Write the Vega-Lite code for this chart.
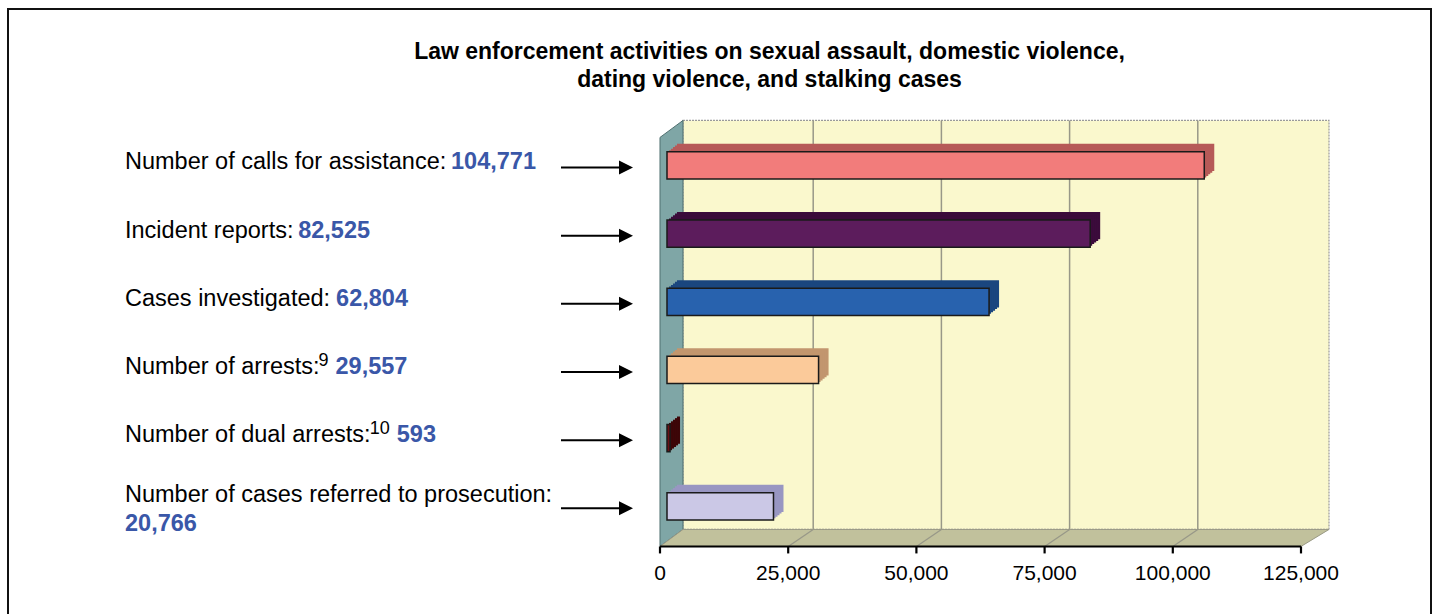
{
  "$schema": "https://vega.github.io/schema/vega-lite/v6.json",
  "width": 1423,
  "height": 610,
  "autosize": {"type": "none"},
  "padding": {"left": 8, "top": 9, "right": 4, "bottom": 0},
  "title": {
    "text": ["Law enforcement activities on sexual assault, domestic violence,", "dating violence, and stalking cases"],
    "anchor": "middle",
    "frame": "group",
    "dx": 50,
    "offset": -83,
    "baseline": "top",
    "font": "Liberation Sans",
    "fontSize": 23,
    "fontWeight": "bold",
    "lineHeight": 28,
    "color": "#000"
  },
  "datasets": {
    "rows": [
      {"label": "Number of calls for assistance:", "note": "", "value": 104771},
      {"label": "Incident reports:", "note": "", "value": 82525},
      {"label": "Cases investigated:", "note": "", "value": 62804},
      {"label": "Number of arrests:", "note": "9", "value": 29557},
      {"label": "Number of dual arrests:", "note": "10", "value": 593},
      {"label": "Number of cases referred to prosecution:", "note": "", "value": 20766}
    ],
    "grid": [{"g": 25000}, {"g": 50000}, {"g": 75000}, {"g": 100000}],
    "ticks": [{"t": 0}, {"t": 25000}, {"t": 50000}, {"t": 75000}, {"t": 100000}, {"t": 125000}]
  },
  "layer": [
    {
      "layer": [
        {
          "data": {"values": [{}]},
          "mark": {"type": "rect", "fill": "#faf8cd", "stroke": "#9a9a9a", "strokeWidth": 1.2, "strokeDash": [2, 1], "xOffset": 23, "x2Offset": 28, "yOffset": -17, "y2Offset": -17},
          "encoding": {
            "x": {"datum": 0, "type": "quantitative", "scale": {"domain": [-127145, 150351], "nice": false, "zero": false}, "axis": null},
            "x2": {"datum": 125000},
            "y": {"datum": 0.5, "type": "quantitative", "scale": {"domain": [-1.3837, 7.5645], "reverse": true, "nice": false, "zero": false}, "axis": null},
            "y2": {"datum": 6.5}
          }
        },
        {
          "data": {"name": "grid"},
          "mark": {"type": "rule", "stroke": "#989888", "strokeWidth": 1.5, "xOffset": 25, "yOffset": -17, "y2Offset": -17},
          "encoding": {
            "x": {"field": "g", "type": "quantitative", "axis": null},
            "y": {"datum": 0.5, "type": "quantitative", "axis": null},
            "y2": {"datum": 6.5}
          }
        },
        {
          "data": {"values": [{}]},
          "mark": {"type": "point", "shape": "M0,-1L0.1125,-1.0831L0.1125,0.9169L0,1Z", "size": 167281, "filled": true, "fill": "#7fa6a6", "stroke": "#4f6f6f", "strokeWidth": 1, "opacity": 1},
          "encoding": {
            "x": {"datum": 0, "type": "quantitative", "axis": null},
            "y": {"datum": 3.5, "type": "quantitative", "axis": null}
          }
        },
        {
          "data": {"values": [{}]},
          "mark": {"type": "point", "shape": "M-1,0L1,0L1.0874,-0.053L-0.9282,-0.053Z", "size": 410881, "filled": true, "fill": "#c1c19c", "stroke": "#9a9a86", "strokeWidth": 1, "opacity": 1},
          "encoding": {
            "x": {"datum": 62500, "type": "quantitative", "axis": null},
            "y": {"datum": 6.5, "type": "quantitative", "axis": null}
          }
        },
        {
          "data": {"name": "grid"},
          "mark": {"type": "rule", "stroke": "#989888", "strokeWidth": 1.3, "x2Offset": 25, "y2Offset": -17},
          "encoding": {
            "x": {"field": "g", "type": "quantitative", "axis": null},
            "x2": {"field": "g"},
            "y": {"datum": 6.5, "type": "quantitative", "axis": null},
            "y2": {"datum": 6.5}
          }
        },
        {
          "data": {"values": [{}]},
          "mark": {"type": "rule", "stroke": "#000", "strokeWidth": 2},
          "encoding": {
            "x": {"datum": 0, "type": "quantitative", "axis": null},
            "x2": {"datum": 125000},
            "y": {"datum": 6.5, "type": "quantitative", "axis": null}
          }
        },
        {
          "data": {"name": "ticks"},
          "mark": {"type": "rule", "stroke": "#000", "strokeWidth": 2.2, "y2Offset": 7},
          "encoding": {
            "x": {"field": "t", "type": "quantitative", "axis": null},
            "y": {"datum": 6.5, "type": "quantitative", "axis": null},
            "y2": {"datum": 6.5}
          }
        },
        {
          "data": {"name": "ticks"},
          "mark": {"type": "text", "align": "center", "baseline": "alphabetic", "dy": 34, "font": "Liberation Sans", "fontSize": 21, "fill": "#000"},
          "encoding": {
            "x": {"field": "t", "type": "quantitative", "axis": null},
            "y": {"datum": 6.5, "type": "quantitative", "axis": null},
            "text": {"field": "t", "type": "quantitative", "format": ","}
          }
        }
      ]
    },
    {
      "data": {"name": "rows"},
      "layer": [
        {
          "mark": {"type": "bar", "xOffset": 17, "x2Offset": 17, "yOffset": -8, "y2Offset": -8},
          "encoding": {
            "y": {
              "field": "label", "type": "nominal", "axis": null,
              "scale": {
                "domain": ["Number of calls for assistance:", "Incident reports:", "Cases investigated:", "Number of arrests:", "Number of dual arrests:", "Number of cases referred to prosecution:"],
                "range": [122.4, 531.4], "paddingInner": 0.6, "paddingOuter": 0.3
              }
            },
            "x": {"field": "value", "type": "quantitative", "axis": null},
            "fill": {
              "field": "label", "type": "nominal", "legend": null,
              "scale": {
                "domain": ["Number of calls for assistance:", "Incident reports:", "Cases investigated:", "Number of arrests:", "Number of dual arrests:", "Number of cases referred to prosecution:"],
                "range": ["#b65a58", "#3b0b3b", "#1a467f", "#c2966e", "#3d0608", "#9896c2"]
              }
            }
          }
        },
        {
          "mark": {"type": "bar", "xOffset": 15, "x2Offset": 15, "yOffset": -6.4, "y2Offset": -6.4},
          "encoding": {
            "y": {"field": "label", "type": "nominal", "axis": null},
            "x": {"field": "value", "type": "quantitative", "axis": null},
            "fill": {"field": "label", "type": "nominal", "legend": null}
          }
        },
        {
          "mark": {"type": "bar", "xOffset": 13, "x2Offset": 13, "yOffset": -4.8, "y2Offset": -4.8},
          "encoding": {
            "y": {"field": "label", "type": "nominal", "axis": null},
            "x": {"field": "value", "type": "quantitative", "axis": null},
            "fill": {"field": "label", "type": "nominal", "legend": null}
          }
        },
        {
          "mark": {"type": "bar", "xOffset": 11, "x2Offset": 11, "yOffset": -3.2, "y2Offset": -3.2},
          "encoding": {
            "y": {"field": "label", "type": "nominal", "axis": null},
            "x": {"field": "value", "type": "quantitative", "axis": null},
            "fill": {"field": "label", "type": "nominal", "legend": null}
          }
        },
        {
          "mark": {"type": "bar", "xOffset": 9, "x2Offset": 9, "yOffset": -1.6, "y2Offset": -1.6},
          "encoding": {
            "y": {"field": "label", "type": "nominal", "axis": null},
            "x": {"field": "value", "type": "quantitative", "axis": null},
            "fill": {"field": "label", "type": "nominal", "legend": null}
          }
        },
        {
          "mark": {"type": "bar", "xOffset": 7, "x2Offset": 7, "stroke": "#1a1a1a", "strokeWidth": 1.5},
          "encoding": {
            "y": {"field": "label", "type": "nominal", "axis": null},
            "x": {"field": "value", "type": "quantitative", "axis": null},
            "color": {
              "field": "label", "type": "nominal", "legend": null,
              "scale": {
                "domain": ["Number of calls for assistance:", "Incident reports:", "Cases investigated:", "Number of arrests:", "Number of dual arrests:", "Number of cases referred to prosecution:"],
                "range": ["#f27c7b", "#5c1c5c", "#2862ae", "#fbca9a", "#6b1014", "#cbc8e6"]
              }
            }
          }
        },
        {
          "mark": {
            "type": "text", "align": "left", "baseline": "alphabetic",
            "font": "Liberation Sans", "fontSize": 23.5, "fill": "#000000",
            "dy": {"expr": "length(datum.label) > 34 ? -4 : 4"}
          },
          "encoding": {
            "y": {"field": "label", "type": "nominal", "axis": null},
            "x": {"datum": -104330, "type": "quantitative", "axis": null},
            "text": {"field": "label", "type": "nominal"}
          }
        },
        {
          "transform": [{"filter": "datum.note != ''"}],
          "mark": {
            "type": "text", "align": "left", "baseline": "alphabetic",
            "font": "Liberation Sans", "fontSize": 18, "fill": "#000000", "dy": -4,
            "dx": {"expr": "23.5*(0.556*length(datum.label)-0.3*length(replace(datum.label,regexp('[^ijlIft :,.]','g'),''))-0.223*length(replace(datum.label,regexp('[^r]','g'),''))-0.056*length(replace(datum.label,regexp('[^cszkvxy]','g'),''))+0.277*length(replace(datum.label,regexp('[^m]','g'),''))+0.166*length(replace(datum.label,regexp('[^A-HJ-Z]','g'),''))) + 1.5"}
          },
          "encoding": {
            "y": {"field": "label", "type": "nominal", "axis": null},
            "x": {"datum": -104330, "type": "quantitative", "axis": null},
            "text": {"field": "note", "type": "nominal"}
          }
        },
        {
          "mark": {
            "type": "text", "align": "left", "baseline": "alphabetic",
            "font": "Liberation Sans", "fontSize": 23.5, "fontWeight": "bold", "fill": "#3a57a8",
            "dy": {"expr": "length(datum.label) > 34 ? 25 : 4"},
            "dx": {"expr": "length(datum.label) > 34 ? 0 : 23.5*(0.556*length(datum.label)-0.3*length(replace(datum.label,regexp('[^ijlIft :,.]','g'),''))-0.223*length(replace(datum.label,regexp('[^r]','g'),''))-0.056*length(replace(datum.label,regexp('[^cszkvxy]','g'),''))+0.277*length(replace(datum.label,regexp('[^m]','g'),''))+0.166*length(replace(datum.label,regexp('[^A-HJ-Z]','g'),''))) + (datum.note != '' ? 18*0.556*length(datum.note) + 2 : 0) + 6.5"}
          },
          "encoding": {
            "y": {"field": "label", "type": "nominal", "axis": null},
            "x": {"datum": -104330, "type": "quantitative", "axis": null},
            "text": {"field": "value", "type": "quantitative", "format": ","}
          }
        },
        {
          "mark": {"type": "rule", "stroke": "#000", "strokeWidth": 2, "yOffset": 2},
          "encoding": {
            "y": {"field": "label", "type": "nominal", "axis": null},
            "x": {"datum": -19306, "type": "quantitative", "axis": null},
            "x2": {"datum": -6630}
          }
        },
        {
          "mark": {"type": "point", "shape": "M1,0L-1,-1L-1,1Z", "size": 196, "filled": true, "color": "#000", "opacity": 1, "yOffset": 2},
          "encoding": {
            "y": {"field": "label", "type": "nominal", "axis": null},
            "x": {"datum": -6630, "type": "quantitative", "axis": null}
          }
        }
      ]
    }
  ],
  "resolve": {"scale": {"y": "independent"}},
  "config": {
    "view": {"stroke": "#111", "strokeWidth": 2},
    "font": "Liberation Sans"
  }
}
